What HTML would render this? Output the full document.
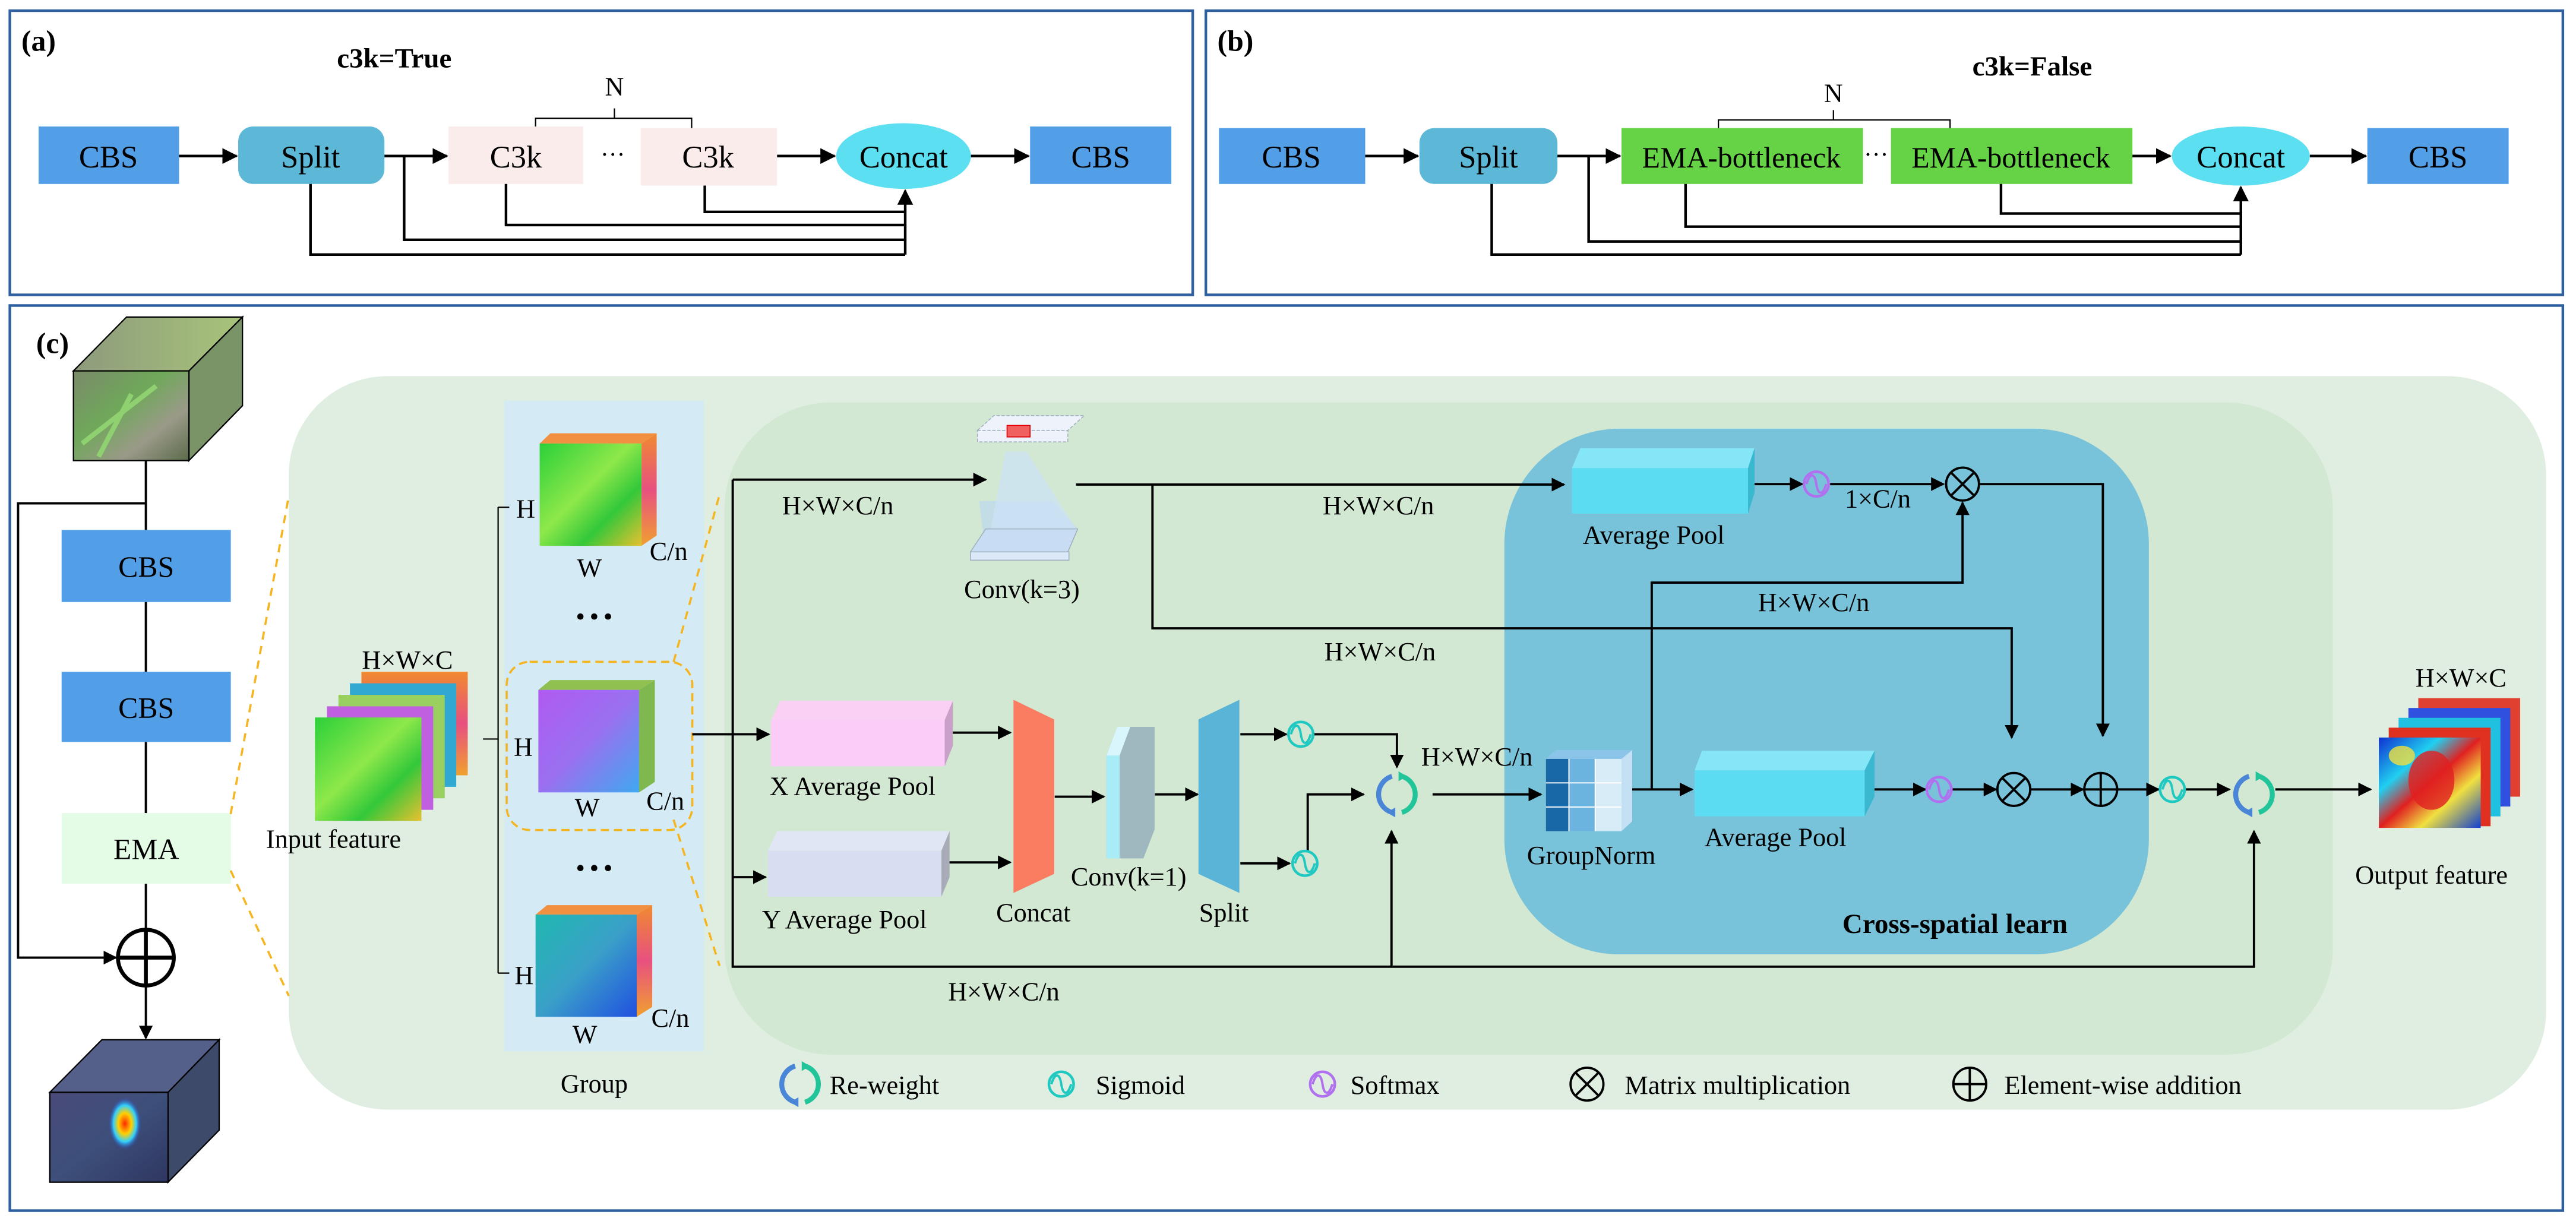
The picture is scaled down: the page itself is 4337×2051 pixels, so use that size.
<!DOCTYPE html>
<html><head><meta charset="utf-8"><style>
html,body{margin:0;padding:0;background:#fff;}
svg{display:block;}
text{font-family:"Liberation Serif",serif;fill:#000;}
</style></head><body>
<svg width="4337" height="2051" viewBox="0 0 1568 741.5" preserveAspectRatio="none" xmlns="http://www.w3.org/2000/svg">
<defs>
<marker id="ar" viewBox="0 0 10 10" refX="9" refY="5" markerWidth="6" markerHeight="6" orient="auto-start-reverse" markerUnits="strokeWidth"><path d="M0,0 L10,5 L0,10 z" fill="#000"/></marker>
<linearGradient id="photo" x1="0" y1="0" x2="1" y2="1"><stop offset="0" stop-color="#7a8a6a"/><stop offset="0.4" stop-color="#6fa85a"/><stop offset="0.7" stop-color="#9a9a88"/><stop offset="1" stop-color="#5a6a4a"/></linearGradient>
<linearGradient id="photoTop" x1="0" y1="0" x2="1" y2="0"><stop offset="0" stop-color="#8d9a7d"/><stop offset="1" stop-color="#a8c47a"/></linearGradient>
<linearGradient id="dark" x1="0" y1="0" x2="1" y2="1"><stop offset="0" stop-color="#4a4a7a"/><stop offset="0.5" stop-color="#3d4f7a"/><stop offset="1" stop-color="#2e3660"/></linearGradient>
<radialGradient id="heat" cx="0.5" cy="0.5" r="0.5"><stop offset="0" stop-color="#ff2a00"/><stop offset="0.4" stop-color="#ffd000"/><stop offset="0.7" stop-color="#30d0ff"/><stop offset="1" stop-color="#3040c0" stop-opacity="0"/></radialGradient>
<linearGradient id="grn" x1="0" y1="0" x2="1" y2="1"><stop offset="0" stop-color="#2bd03a"/><stop offset="0.45" stop-color="#8ee84a"/><stop offset="0.7" stop-color="#33c83a"/><stop offset="1" stop-color="#e8c030"/></linearGradient>
<linearGradient id="pur" x1="0" y1="0" x2="1" y2="1"><stop offset="0" stop-color="#b05af0"/><stop offset="0.5" stop-color="#9a70f0"/><stop offset="1" stop-color="#40a8f0"/></linearGradient>
<linearGradient id="blu" x1="0" y1="0" x2="1" y2="1"><stop offset="0" stop-color="#20b8b0"/><stop offset="0.5" stop-color="#3aa0c8"/><stop offset="1" stop-color="#2050e0"/></linearGradient>
<linearGradient id="side" x1="0" y1="0" x2="0" y2="1"><stop offset="0" stop-color="#f08a30"/><stop offset="0.5" stop-color="#e85080"/><stop offset="1" stop-color="#f0a030"/></linearGradient>
<linearGradient id="outg" x1="0" y1="0" x2="1" y2="1"><stop offset="0" stop-color="#1030d0"/><stop offset="0.3" stop-color="#20d0f0"/><stop offset="0.5" stop-color="#e02020"/><stop offset="0.7" stop-color="#f0e040"/><stop offset="1" stop-color="#1040d0"/></linearGradient>
<g id="sig"><circle r="7.5" fill="none" stroke="#1fc8c0" stroke-width="1.6"/><path d="M-6,0 C-4,-7 -1,-7 0,0 C1,7 4,7 6,0" fill="none" stroke="#1fc8c0" stroke-width="1.4"/></g>
<g id="soft"><circle r="7.5" fill="none" stroke="#b070f0" stroke-width="1.6"/><path d="M-6,0 C-4,-7 -1,-7 0,0 C1,7 4,7 6,0" fill="none" stroke="#b070f0" stroke-width="1.4"/></g>
<g id="rew"><path d="M-3,-11 A11.5,11.5 0 0 0 -3,11" fill="none" stroke="#4a86d8" stroke-width="3"/><path d="M3,11 A11.5,11.5 0 0 0 3,-11" fill="none" stroke="#22c49a" stroke-width="3"/><path d="M1,-14 L6,-11 L1,-8z" fill="#22c49a"/><path d="M-1,14 L-6,11 L-1,8z" fill="#4a86d8"/></g>
<g id="mul"><circle r="10" fill="none" stroke="#000" stroke-width="1.4"/><path d="M-7,-7 L7,7 M-7,7 L7,-7" stroke="#000" stroke-width="1.4"/></g>
<g id="add"><circle r="10" fill="none" stroke="#000" stroke-width="1.4"/><path d="M-10,0 L10,0 M0,-10 L0,10" stroke="#000" stroke-width="1.4"/></g>
</defs>

<rect x="6" y="6.5" width="720" height="173" fill="none" stroke="#2e5f9e" stroke-width="1.6"/>
<rect x="734" y="6.5" width="826" height="173" fill="none" stroke="#2e5f9e" stroke-width="1.6"/>
<rect x="6" y="186" width="1554" height="551" fill="none" stroke="#2e5f9e" stroke-width="1.6"/>

<!-- Panel (a) -->
<text x="13" y="31" font-size="18" font-weight="bold">(a)</text>
<text x="240" y="41" font-size="17" font-weight="bold" text-anchor="middle">c3k=True</text>
<text x="374" y="58" font-size="16" text-anchor="middle">N</text>
<path d="M326,80 V72 H421 V80 M374,72 V66" fill="none" stroke="#000" stroke-width="0.8"/>
<rect x="23.5" y="77" width="85.5" height="35" fill="#529fe8"/>
<text x="66" y="102" font-size="19" text-anchor="middle">CBS</text>
<rect x="145" y="77" width="89" height="35" rx="9" fill="#5cb8d6"/>
<text x="189" y="102" font-size="19" text-anchor="middle">Split</text>
<rect x="273" y="77" width="82" height="35" fill="#fbecec"/>
<text x="314" y="102" font-size="19" text-anchor="middle">C3k</text>
<text x="373" y="99" font-size="15" text-anchor="middle">···</text>
<rect x="390" y="78" width="83" height="35" fill="#fbecec"/>
<text x="431" y="102" font-size="19" text-anchor="middle">C3k</text>
<ellipse cx="550" cy="95" rx="41" ry="20" fill="#5ddff2"/>
<text x="550" y="102" font-size="19" text-anchor="middle">Concat</text>
<rect x="627" y="77" width="86" height="35" fill="#529fe8"/>
<text x="670" y="102" font-size="19" text-anchor="middle">CBS</text>
<g stroke="#000" stroke-width="1.6" fill="none">
<path d="M109,95 H144" marker-end="url(#ar)"/>
<path d="M234,95 H272" marker-end="url(#ar)"/>
<path d="M473,95 H508" marker-end="url(#ar)"/>
<path d="M591,95 H626" marker-end="url(#ar)"/>
<path d="M189,112 V155 H551"/>
<path d="M246,95 V146 H551"/>
<path d="M308,112 V137 H551"/>
<path d="M429,113 V129 H551"/>
<path d="M551,155 V116" marker-end="url(#ar)"/>
</g>

<!-- Panel (b) -->
<text x="741" y="31" font-size="18" font-weight="bold">(b)</text>
<text x="1237" y="46" font-size="17" font-weight="bold" text-anchor="middle">c3k=False</text>
<text x="1116" y="62" font-size="16" text-anchor="middle">N</text>
<path d="M1046,80 V73 H1187 V80 M1116,73 V67" fill="none" stroke="#000" stroke-width="0.8"/>
<rect x="742" y="78" width="89" height="34" fill="#529fe8"/>
<text x="786" y="102" font-size="19" text-anchor="middle">CBS</text>
<rect x="864" y="78" width="84" height="34" rx="9" fill="#5cb8d6"/>
<text x="906" y="102" font-size="19" text-anchor="middle">Split</text>
<rect x="987" y="78" width="147" height="34" fill="#66d245"/>
<text x="1060" y="102" font-size="18" text-anchor="middle">EMA-bottleneck</text>
<text x="1142" y="99" font-size="15" text-anchor="middle">···</text>
<rect x="1151" y="78" width="147" height="34" fill="#66d245"/>
<text x="1224" y="102" font-size="18" text-anchor="middle">EMA-bottleneck</text>
<ellipse cx="1364" cy="95" rx="42" ry="18" fill="#5ddff2"/>
<text x="1364" y="102" font-size="19" text-anchor="middle">Concat</text>
<rect x="1441" y="78" width="86" height="34" fill="#529fe8"/>
<text x="1484" y="102" font-size="19" text-anchor="middle">CBS</text>
<g stroke="#000" stroke-width="1.6" fill="none">
<path d="M831,95 H863" marker-end="url(#ar)"/>
<path d="M948,95 H986" marker-end="url(#ar)"/>
<path d="M1298,95 H1321" marker-end="url(#ar)"/>
<path d="M1406,95 H1440" marker-end="url(#ar)"/>
<path d="M908,112 V155 H1364"/>
<path d="M967,95 V147 H1364"/>
<path d="M1026,112 V138 H1364"/>
<path d="M1218,112 V130 H1364"/>
<path d="M1364,155 V114" marker-end="url(#ar)"/>
</g>

<!-- Panel (c) backgrounds -->
<rect x="175.8" y="229" width="1374" height="446.5" rx="60" fill="#dfeee0"/>
<rect x="441" y="245" width="979" height="397" rx="65" fill="#d2e8d2"/>
<rect x="307" y="244" width="121.6" height="396" fill="#d4eaf5"/>
<rect x="915.7" y="261" width="392.3" height="320" rx="70" fill="#79c3da"/>

<text x="22" y="215" font-size="18" font-weight="bold">(c)</text>

<g>
<polygon points="44.7,225.8 77,193 147.6,193 115,225.8" fill="url(#photoTop)" stroke="#000" stroke-width="0.8"/>
<polygon points="115,225.8 147.6,193 147.6,247 115,280.4" fill="#7a9468" stroke="#000" stroke-width="0.8"/>
<rect x="44.7" y="225.8" width="70.3" height="54.6" fill="url(#photo)" stroke="#000" stroke-width="0.8"/>
<path d="M50,270 L95,235 M60,278 L80,240" stroke="#8fd070" stroke-width="3"/>
</g>
<g stroke="#000" stroke-width="1.4" fill="none">
<path d="M88.8,280.4 V322.6 M88.8,366.5 V409 M88.8,451.7 V495 M88.8,538 V566"/>
<path d="M88.8,306.4 H11 V583 H70.6" marker-end="url(#ar)"/>
<path d="M88.8,600 V632" marker-end="url(#ar)"/>
</g>
<g transform="translate(88.8,583) scale(1.7)"><use href="#add"/></g>
<rect x="37.5" y="322.6" width="103" height="43.9" fill="#529fe8"/>
<text x="89" y="351" font-size="18" text-anchor="middle">CBS</text>
<rect x="37.5" y="409" width="103" height="42.7" fill="#529fe8"/>
<text x="89" y="437" font-size="18" text-anchor="middle">CBS</text>
<rect x="37.5" y="495" width="103" height="43" fill="#e4fbe6"/>
<text x="89" y="523" font-size="18" text-anchor="middle">EMA</text>
<g>
<polygon points="30.3,665 62,633 133.4,633 102.3,665" fill="#55608a" stroke="#000" stroke-width="0.8"/>
<polygon points="102.3,665 133.4,633 133.4,688 102.3,719.7" fill="#3d4a6a" stroke="#000" stroke-width="0.8"/>
<rect x="30.3" y="665" width="72" height="54.7" fill="url(#dark)" stroke="#000" stroke-width="0.8"/>
<ellipse cx="76" cy="684" rx="10" ry="16" fill="url(#heat)"/>
</g>
<path d="M140.4,495.6 L175.8,301.9 M140.4,530 L175.8,606.3" stroke="#f5b520" stroke-width="1.3" stroke-dasharray="5,4" fill="none"/>

<g>
<rect x="220" y="409" width="64.7" height="63" fill="url(#side)"/>
<rect x="213" y="416" width="64.7" height="63" fill="#30a8d0"/>
<rect x="206" y="423" width="64.7" height="63" fill="#9ad060"/>
<rect x="199" y="430" width="64.7" height="63" fill="#c060e0"/>
<rect x="191.7" y="436.8" width="64.8" height="62.9" fill="url(#grn)"/>
</g>
<text x="248" y="407" font-size="16" text-anchor="middle">H×W×C</text>
<text x="203" y="516" font-size="16" text-anchor="middle">Input feature</text>
<path d="M303.2,308.8 V592.4 M303.2,308.8 H310 M303.2,592.4 H310 M294,449.9 H303.2" stroke="#000" stroke-width="0.8" fill="none"/>
<g>
<polygon points="328.5,270 335,263.8 399.7,263.8 390.5,270" fill="#f09040"/>
<polygon points="390.5,270 399.7,263.8 399.7,326 390.5,332.3" fill="url(#side)"/>
<rect x="328.5" y="270" width="62" height="62.3" fill="url(#grn)"/>
<polygon points="327.7,420 335,414 398.6,414 389,420" fill="#90c050"/>
<polygon points="389,420 398.6,414 398.6,476 389,482.4" fill="#80b850"/>
<rect x="327.7" y="420" width="61.3" height="62.4" fill="url(#pur)"/>
<polygon points="326,556.8 333,551 397,551 387.6,556.8" fill="#f09040"/>
<polygon points="387.6,556.8 397,551 397,613 387.6,619" fill="url(#side)"/>
<rect x="326" y="556.8" width="61.6" height="62.2" fill="url(#blu)"/>
</g>
<g font-size="16">
<text x="320" y="315" text-anchor="middle">H</text>
<text x="318.5" y="460" text-anchor="middle">H</text>
<text x="319" y="599" text-anchor="middle">H</text>
<text x="358.8" y="351" text-anchor="middle">W</text>
<text x="357.4" y="497" text-anchor="middle">W</text>
<text x="356" y="635" text-anchor="middle">W</text>
<text x="407" y="341" text-anchor="middle">C/n</text>
<text x="405" y="493" text-anchor="middle">C/n</text>
<text x="408" y="625" text-anchor="middle">C/n</text>
<text x="361.7" y="665" text-anchor="middle">Group</text>
</g>
<text x="361.7" y="380" font-size="14" text-anchor="middle" font-weight="bold">• • •</text>
<text x="361.7" y="533" font-size="14" text-anchor="middle" font-weight="bold">• • •</text>
<rect x="308.4" y="402.9" width="113" height="102.4" rx="14" fill="none" stroke="#f5b520" stroke-width="1.3" stroke-dasharray="5,3"/>
<path d="M410,403 L438,301 M410,499 L438,588" stroke="#f5b520" stroke-width="1.3" stroke-dasharray="5,4" fill="none"/>

<g>
<polygon points="596,305 640,305 656,322 600,338" fill="#bcd8f0" opacity="0.7"/>
<polygon points="612,275 625,275 655,322 600,338" fill="#cce2f6" opacity="0.7"/>
<polygon points="590.7,336 650,336 656,322 600,322" fill="#c8dcf4" stroke="#9ab" stroke-width="0.5"/>
<rect x="590.7" y="336" width="60" height="5" fill="#dbe8f8" stroke="#9ab" stroke-width="0.5"/>
<polygon points="595,262 605,253 660,253 650,262" fill="#eef2fa" stroke="#9ab" stroke-width="0.5" stroke-dasharray="2,1"/>
<rect x="595" y="262" width="55" height="7" fill="#eef2fa" stroke="#9ab" stroke-width="0.5" stroke-dasharray="2,1"/>
<rect x="613" y="259" width="14" height="7" fill="#f06060" stroke="#d00" stroke-width="0.6"/>
</g>
<text x="622" y="364" font-size="16" text-anchor="middle">Conv(k=3)</text>

<g stroke="#000" stroke-width="1.4" fill="none">
<path d="M446,292 H600" marker-end="url(#ar)"/>
<path d="M446,292 V588.5 H1372 V506" marker-end="url(#ar)"/>
<path d="M847,588.5 V506" marker-end="url(#ar)"/>
<path d="M655,295 H952" marker-end="url(#ar)"/>
<path d="M701.5,295 V382.5 H1224.5 V449" marker-end="url(#ar)"/>
<path d="M1066,294.7 H1097" marker-end="url(#ar)"/>
<path d="M1114,294.7 H1183" marker-end="url(#ar)"/>
<path d="M1205,294.7 H1280 V448" marker-end="url(#ar)"/>
<path d="M1005.4,480.6 V354.7 H1194.6 V306" marker-end="url(#ar)"/>
<path d="M421.4,447 H468" marker-end="url(#ar)"/>
<path d="M446,534 H466" marker-end="url(#ar)"/>
<path d="M578,446 H615" marker-end="url(#ar)"/>
<path d="M576,525 H615" marker-end="url(#ar)"/>
<path d="M642,485 H672" marker-end="url(#ar)"/>
<path d="M703,483.6 H729" marker-end="url(#ar)"/>
<path d="M755,447 H783" marker-end="url(#ar)"/>
<path d="M755,525.6 H785" marker-end="url(#ar)"/>
<path d="M800,447 H850.3 V467" marker-end="url(#ar)"/>
<path d="M796,518 V483.6 H830" marker-end="url(#ar)"/>
<path d="M872,483.6 H938" marker-end="url(#ar)"/>
<path d="M993.5,480.6 H1030" marker-end="url(#ar)"/>
<path d="M1139,480.6 H1172" marker-end="url(#ar)"/>
<path d="M1188,480.6 H1215" marker-end="url(#ar)"/>
<path d="M1236,480.6 H1268" marker-end="url(#ar)"/>
<path d="M1289,480.6 H1314" marker-end="url(#ar)"/>
<path d="M1330,480.6 H1357" marker-end="url(#ar)"/>
<path d="M1385,480.6 H1443" marker-end="url(#ar)"/>
</g>

<g font-size="16" text-anchor="middle">
<text x="510" y="313">H×W×C/n</text>
<text x="839" y="313">H×W×C/n</text>
<text x="1104" y="372">H×W×C/n</text>
<text x="840" y="402">H×W×C/n</text>
<text x="899" y="466">H×W×C/n</text>
<text x="611" y="609">H×W×C/n</text>
<text x="1143" y="309">1×C/n</text>
</g>

<g>
<polygon points="956.8,285 962,272.8 1068,272.8 1064,285" fill="#84e6f6"/>
<polygon points="1064,285 1068,272.8 1068,300 1064,312.7" fill="#3ab8d0"/>
<rect x="956.8" y="285" width="107.2" height="27.7" fill="#5cdcf2"/>
<polygon points="1031.5,469 1036,457 1141,457 1135,469" fill="#84e6f6"/>
<polygon points="1135,469 1141,457 1141,485 1135,497" fill="#3ab8d0"/>
<rect x="1031.5" y="469" width="103.5" height="28" fill="#5cdcf2"/>
<polygon points="469.3,438.5 475,426.6 580,426.6 575,438.5" fill="#fbd0f5"/>
<polygon points="575,438.5 580,426.6 580,454 575,466.5" fill="#c8a0c8"/>
<rect x="469.3" y="438.5" width="105.7" height="28" fill="#fcccf8"/>
<polygon points="467.4,518 473,506 578,506 573,518" fill="#e0e6f4"/>
<polygon points="573,518 578,506 578,534 573,546" fill="#a8acb8"/>
<rect x="467.4" y="518" width="105.6" height="28" fill="#d8def2"/>
</g>
<g font-size="16" text-anchor="middle">
<text x="1006.6" y="331">Average Pool</text>
<text x="1080.7" y="515">Average Pool</text>
<text x="519" y="484">X Average Pool</text>
<text x="514" y="565">Y Average Pool</text>
<text x="629" y="561">Concat</text>
<text x="687" y="539">Conv(k=1)</text>
<text x="745" y="561">Split</text>
<text x="968.6" y="526">GroupNorm</text>
<text x="1480" y="538">Output feature</text>
<text x="1498" y="418">H×W×C</text>
</g>
<polygon points="616.9,426 641.7,438 641.7,532 616.9,543.6" fill="#fa7d62"/>
<polygon points="673.5,460 680,442.5 702.8,442.5 702.8,505 696,522.6 673.5,522.6" fill="#9fb8c0"/>
<rect x="673.5" y="460" width="8" height="62.6" fill="#a8ecf8"/>
<polygon points="673.5,460 680,442.5 688,442.5 681.5,460" fill="#d8f6fc"/>
<polygon points="729.5,438 754.4,426 754.4,543.6 729.5,532" fill="#59b4d8"/>
<g>
<polygon points="941,462 947,456.6 993.5,456.6 987,462" fill="#8ac4e8"/>
<polygon points="987,462 993.5,456.6 993.5,500 987,506" fill="#c4e0f4"/>
<rect x="941" y="462" width="46" height="44" fill="#d8ecf8"/>
<rect x="941" y="462" width="14" height="44" fill="#1868a8"/>
<rect x="955" y="462" width="16" height="44" fill="#6cb4e0"/>
<path d="M941,476.6 H987 M941,491.3 H987 M955,462 V506 M971,462 V506" stroke="#fff" stroke-width="0.7"/>
</g>
<use href="#sig" x="791.8" y="447"/>
<use href="#sig" x="794.3" y="525.6"/>
<use href="#rew" x="850.3" y="483.6"/>
<use href="#soft" x="1105.6" y="294.7"/>
<use href="#mul" x="1194.6" y="294.7"/>
<use href="#soft" x="1180.3" y="480.6"/>
<use href="#mul" x="1225.8" y="480.6"/>
<use href="#add" x="1278.7" y="480.6"/>
<use href="#sig" x="1322.3" y="480.6"/>
<use href="#rew" x="1372" y="483.6"/>
<text x="1190" y="568" font-size="17" font-weight="bold" text-anchor="middle">Cross-spatial learn</text>

<g>
<rect x="1472" y="425" width="62" height="60" fill="#e04030"/>
<rect x="1466" y="431" width="62" height="60" fill="#3050e0"/>
<rect x="1460" y="437" width="62" height="60" fill="#20c0e0"/>
<rect x="1454" y="443" width="62" height="60" fill="#e03020"/>
<rect x="1448" y="449" width="62" height="55" fill="url(#outg)"/>
<ellipse cx="1480" cy="475" rx="14" ry="18" fill="#e02020" opacity="0.8"/>
<ellipse cx="1462" cy="460" rx="8" ry="6" fill="#f0e040" opacity="0.8"/>
</g>

<use href="#rew" x="487" y="660"/>
<text x="505" y="666" font-size="16">Re-weight</text>
<use href="#sig" x="646" y="660"/>
<text x="667" y="666" font-size="16">Sigmoid</text>
<use href="#soft" x="805" y="660"/>
<text x="822" y="666" font-size="16">Softmax</text>
<use href="#mul" x="966" y="660"/>
<text x="989" y="666" font-size="16">Matrix multiplication</text>
<use href="#add" x="1199" y="660"/>
<text x="1220" y="666" font-size="16">Element-wise addition</text>
</svg>
</body></html>
